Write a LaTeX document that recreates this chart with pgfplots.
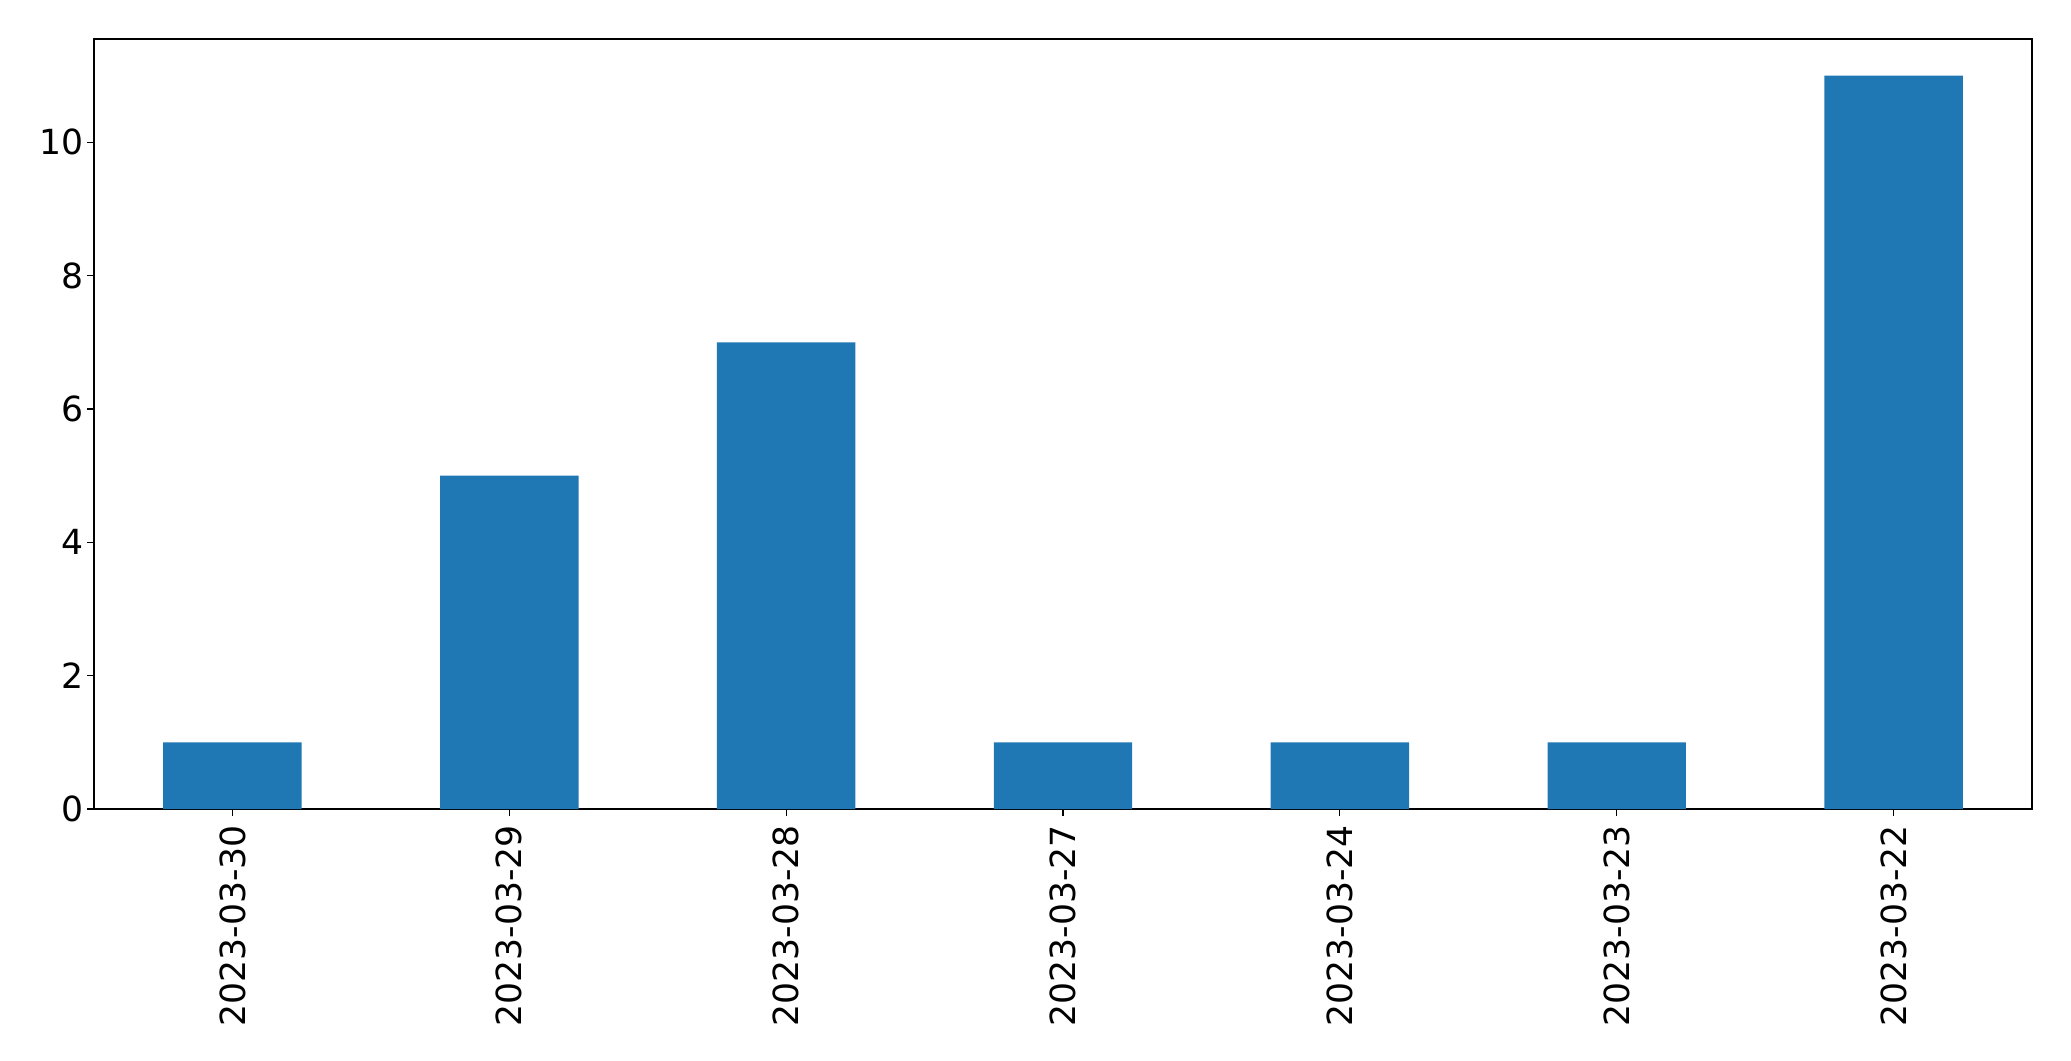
\documentclass[border=0pt]{standalone}
\usepackage{pgfplots}
\pgfplotsset{compat=1.18}
\usepackage{fontspec}
\setmainfont{DejaVu Sans}
\definecolor{barblue}{HTML}{1F77B4}
\begin{document}
\begin{tikzpicture}
\begin{axis}[
  at={(0bp,0bp)}, anchor=south west,
  scale only axis, width=969bp, height=385bp,
  xmin=-0.5, xmax=6.5, ymin=0, ymax=11.55,
  xtick={0,1,2,3,4,5,6},
  xticklabels={2023-03-30,2023-03-29,2023-03-28,2023-03-27,2023-03-24,2023-03-23,2023-03-22},
  x tick label style={rotate=90, anchor=east, inner sep=0pt},
  xticklabel shift=4.5bp,
  yticklabel shift=1.5bp,
  y tick label style={inner sep=0pt},
  ytick={0,2,4,6,8,10},
  tick align=outside, xtick pos=bottom, ytick pos=left,
  major tick length=3.5bp,
  tick style={black, line width=0.6bp},
  axis line style={line width=0.6bp},
  ticklabel style={font=\fontsize{17.3bp}{21bp}\selectfont},
  /pgf/number format/assume math mode=true,
  ybar, bar width=0.5,
]
\addplot[fill=barblue, draw=none] coordinates {(0,1) (1,5) (2,7) (3,1) (4,1) (5,1) (6,11)};
\end{axis}
\pgfresetboundingbox
\path (-47bp,-126bp) rectangle (988.5bp,404.5bp);
\end{tikzpicture}
\end{document}
